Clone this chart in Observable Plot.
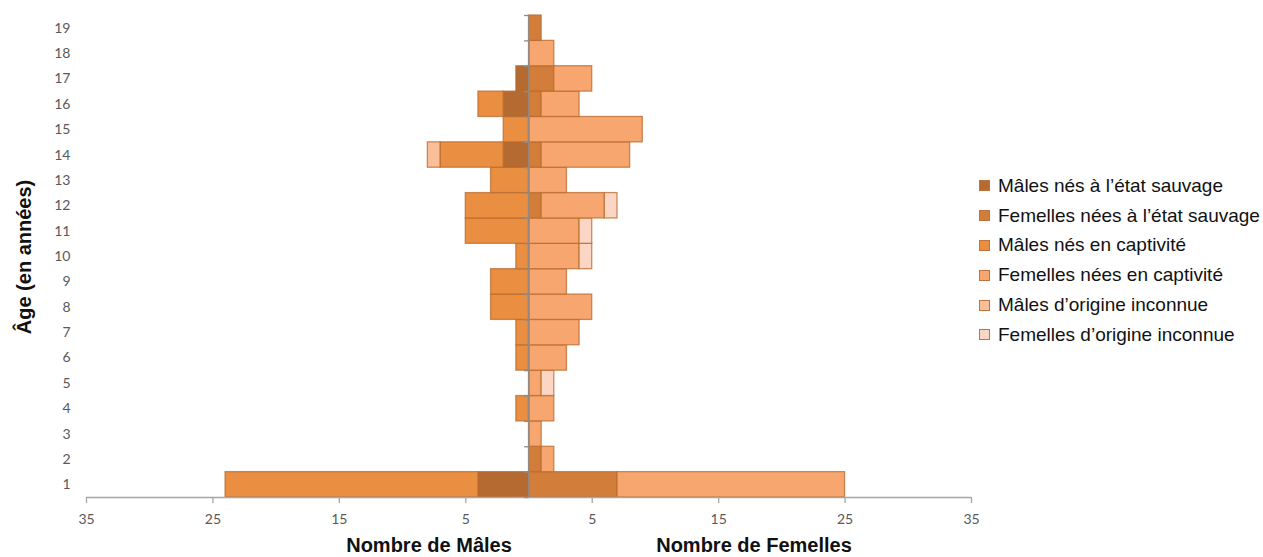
<!DOCTYPE html>
<html>
<head>
<meta charset="utf-8">
<script src="https://cdn.jsdelivr.net/npm/d3@7"></script>
<script src="https://cdn.jsdelivr.net/npm/@observablehq/plot@0.6"></script>
<style>
  html, body { margin: 0; padding: 0; background: #fff; }
  #wrap { position: relative; width: 1263px; height: 557px; font-family: "Liberation Sans", Arial, sans-serif; overflow: hidden; }
  #wrap svg { position: absolute; left: 0; top: 0; }
  .title { position: absolute; font-weight: bold; font-size: 20px; line-height: 20px; color: #111; white-space: nowrap; }
  #legend { position: absolute; left: 979px; top: 171px; font-size: 19px; color: #111; }
  #legend .item { display: flex; align-items: center; height: 29.8px; white-space: nowrap; }
  #legend .sw { width: 11px; height: 11px; margin-right: 8px; box-sizing: border-box; border: 1px solid #c0733a; }
</style>
</head>
<body>
<div id="wrap"></div>
<script>
// ---- data ----
const ages = [1,2,3,4,5,6,7,8,9,10,11,12,13,14,15,16,17,18,19];
const malesWild      = [4,0,0,0,0,0,0,0,0,0,0,0,0,2,0,2,1,0,0];
const femalesWild    = [7,1,0,0,0,0,0,0,0,0,0,1,0,1,0,1,2,0,1];
const malesCaptive   = [20,0,0,1,0,1,1,3,3,1,5,5,3,5,2,2,0,0,0];
const femalesCaptive = [18,1,1,2,1,3,4,5,3,4,4,5,3,7,9,3,3,2,0];
const malesUnknown   = [0,0,0,0,0,0,0,0,0,0,0,0,0,1,0,0,0,0,0];
const femalesUnknown = [0,0,0,0,1,0,0,0,0,1,1,1,0,0,0,0,0,0,0];
const categories = [
  "Mâles nés à l’état sauvage",
  "Femelles nées à l’état sauvage",
  "Mâles nés en captivité",
  "Femelles nées en captivité",
  "Mâles d’origine inconnue",
  "Femelles d’origine inconnue"
];
const colors = ["#b46a30", "#d27e3a", "#ea8f42", "#f6a66e", "#f9bf98", "#fbd6c4"];
const xTicks = [-35, -25, -15, -5, 5, 15, 25, 35];
const xTitles = ["Nombre de Mâles", "Nombre de Femelles"];
const yTitle = "Âge (en années)";

// ---- long-form table ----
const series = [
  {cat: categories[0], vals: malesWild, sign: -1},
  {cat: categories[1], vals: femalesWild, sign: 1},
  {cat: categories[2], vals: malesCaptive, sign: -1},
  {cat: categories[3], vals: femalesCaptive, sign: 1},
  {cat: categories[4], vals: malesUnknown, sign: -1},
  {cat: categories[5], vals: femalesUnknown, sign: 1}
];
const rows = [];
ages.forEach((age, i) => {
  series.forEach(s => {
    if (s.vals[i] > 0) rows.push({age, cat: s.cat, value: s.sign * s.vals[i]});
  });
});
const lo = d3.min(ages) - 0.5, hi = d3.max(ages) + 0.5;
const boundaries = d3.range(lo, hi + 0.001, 1);

const plot = Plot.plot({
  width: 1263,
  height: 557,
  marginLeft: 86,
  marginRight: 292,
  marginTop: 15,
  marginBottom: 60,
  style: {fontFamily: "Lato, 'Liberation Sans', sans-serif", fontSize: "14px", color: "#595959", background: "transparent"},
  x: {domain: [-35, 35]},
  y: {domain: [lo, hi]},
  color: {domain: categories, range: colors},
  marks: [
    Plot.rectX(rows, {
      x: "value",
      y: "age",
      y1: d => d.age - 0.5,
      y2: d => d.age + 0.5,
      fill: "cat",
      stroke: "#b9692c",
      strokeOpacity: 0.75,
      strokeWidth: 1.3
    }),
    Plot.ruleY([lo], {stroke: "#a6a6a6", strokeWidth: 1.3}),
    Plot.ruleX([0], {y1: lo, y2: hi, stroke: "#8c8c8c", strokeWidth: 1.6}),
    Plot.ruleY(boundaries, {x1: -0.35, x2: 0, stroke: "#8c8c8c", strokeWidth: 1.3}),
    Plot.axisX({ticks: xTicks, tickFormat: d => Math.abs(d), tickSize: 6, tickPadding: 11, stroke: "#a6a6a6", strokeWidth: 1.3, label: null, fontSize: 14, fill: "#595959"}),
    Plot.axisY({ticks: ages, tickFormat: d => d, tickSize: 0, tickPadding: 16, label: null, fontSize: 14, fill: "#595959"})
  ]
});

const wrap = document.getElementById("wrap");
wrap.appendChild(plot);

// axis titles
const t1 = document.createElement("div");
t1.className = "title"; t1.textContent = xTitles[0];
t1.style.left = "429px"; t1.style.top = "535px"; t1.style.transform = "translateX(-50%)";
wrap.appendChild(t1);
const t2 = document.createElement("div");
t2.className = "title"; t2.textContent = xTitles[1];
t2.style.left = "754px"; t2.style.top = "535px"; t2.style.transform = "translateX(-50%)";
wrap.appendChild(t2);
const t3 = document.createElement("div");
t3.className = "title"; t3.textContent = yTitle;
t3.style.left = "24px"; t3.style.top = "257px"; t3.style.transform = "translate(-50%, -50%) rotate(-90deg)";
wrap.appendChild(t3);

// legend
const leg = document.createElement("div");
leg.id = "legend";
categories.forEach((c, i) => {
  const it = document.createElement("div"); it.className = "item";
  const sw = document.createElement("span"); sw.className = "sw"; sw.style.background = colors[i];
  const tx = document.createElement("span"); tx.textContent = c;
  it.appendChild(sw); it.appendChild(tx); leg.appendChild(it);
});
wrap.appendChild(leg);
</script>
</body>
</html>
